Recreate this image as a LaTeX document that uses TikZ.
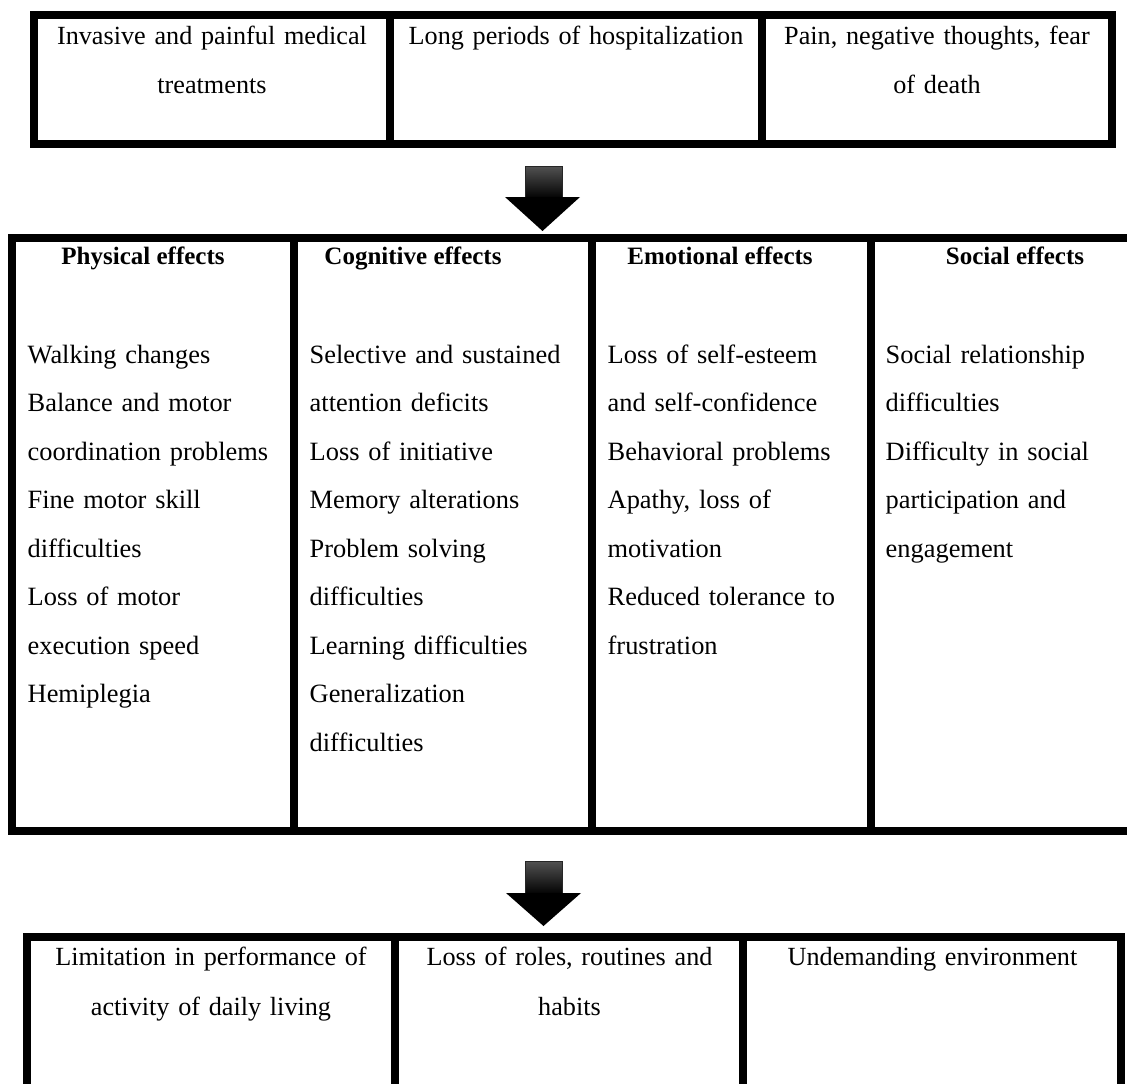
\documentclass[tikz,border=0pt]{standalone}
\usepackage{fontspec}
\setmainfont{Liberation Serif}
\begin{document}
\begin{tikzpicture}[x=1pt,y=-1pt,
  frame/.style={line width=8pt, line join=miter},
  ctext/.style={font=\fontsize{26.2}{#1}\selectfont, inner sep=0pt, text width=345pt, align=center, anchor=base},
  head/.style={font=\fontsize{25}{30}\selectfont\bfseries, inner sep=0pt, anchor=base},
  ltext/.style={font=\fontsize{26.4}{48.5}\selectfont, inner sep=0pt, text width=275pt, align=left, anchor=base west},
  shaft/.style={top color=black!68, bottom color=black, draw=black!85, line width=0.6pt},
  tip/.style={fill=black}]
\useasboundingbox (0,0) rectangle (1127,1084);

% ---------- top table ----------
\draw[frame] (34,15) rectangle (1112,144);
\draw[frame] (390,15) -- (390,144);
\draw[frame] (762,15) -- (762,144);
\node[ctext=49] (t1) at (212,44) {Invasive and painful medical\\treatments};
\node[ctext=49] (t2) at (576,44) {Long periods of hospitalization};
\node[ctext=49] (t3) at (937,44) {Pain, negative thoughts, fear\\of death};

% ---------- arrow 1 ----------
\shade[shaft] (525,166) rectangle (562,199);
\fill[tip] (505,197) -- (580,197) -- (542.5,231) -- cycle;

% ---------- middle table ----------
\draw[frame] (1175,237.5) -- (12,237.5) -- (12,830.5) -- (1175,830.5);
\draw[frame] (294,237.5) -- (294,830.5);
\draw[frame] (592,237.5) -- (592,830.5);
\draw[frame] (870.5,237.5) -- (870.5,830.5);

\node[head] (h1) at (143,264) {Physical effects};
\node[head] (h2) at (413,264) {Cognitive effects};
\node[head] (h3) at (720,264) {Emotional effects};
\node[head] (h4) at (1015,264) {Social effects};

\node[ltext] (c1) at (27.5,363) {Walking changes\\Balance and motor\\coordination problems\\Fine motor skill\\difficulties\\Loss of motor\\execution speed\\Hemiplegia};
\node[ltext] (c2) at (309.5,363) {Selective and sustained\\attention deficits\\Loss of initiative\\Memory alterations\\Problem solving\\difficulties\\Learning difficulties\\Generalization\\difficulties};
\node[ltext] (c3) at (607.5,363) {Loss of self-esteem\\and self-confidence\\Behavioral problems\\Apathy, loss of\\motivation\\Reduced tolerance to\\frustration};
\node[ltext] (c4) at (885.5,363) {Social relationship\\difficulties\\Difficulty in social\\participation and\\engagement};

% ---------- arrow 2 ----------
\shade[shaft] (525,861) rectangle (562,895);
\fill[tip] (506,893) -- (581,893) -- (543.5,926) -- cycle;

% ---------- bottom table ----------
\draw[frame] (27,1110) -- (27,937) -- (1120.5,937) -- (1120.5,1110);
\draw[frame] (394.5,937) -- (394.5,1110);
\draw[frame] (743,937) -- (743,1110);
\node[ctext=50] (b1) at (211,965) {Limitation in performance of\\activity of daily living};
\node[ctext=50] (b2) at (569.5,965) {Loss of roles, routines and\\habits};
\node[ctext=50] (b3) at (932.5,965) {Undemanding environment};
\end{tikzpicture}
\end{document}
